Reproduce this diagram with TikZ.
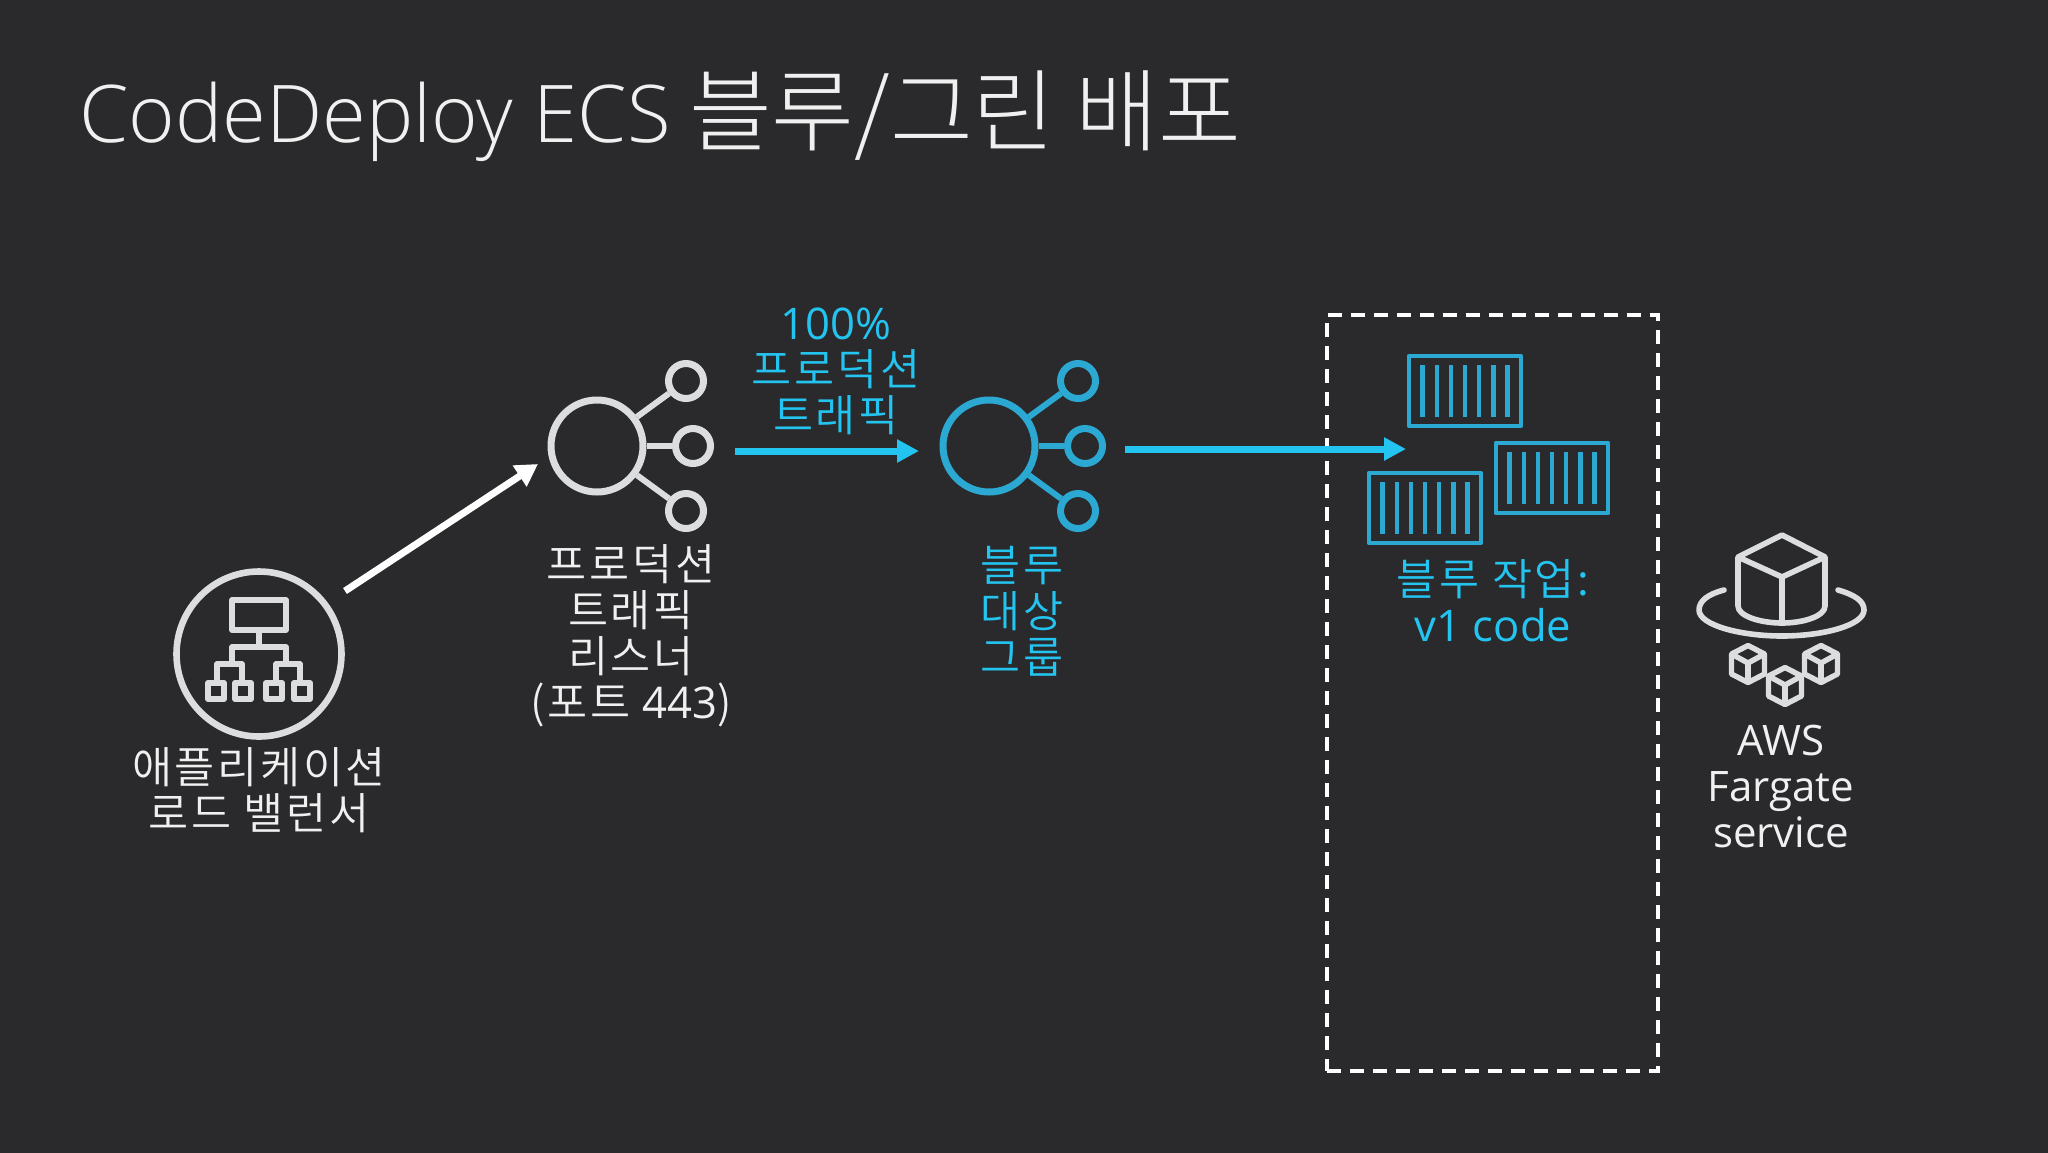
\documentclass[tikz,border=0pt]{standalone}
\usepackage{fontspec}
\usetikzlibrary{arrows.meta}
\setmainfont{Open Sans}
\newfontfamily\titlelatin{Open Sans Light}
\newfontfamily\titlekr{Noto Sans CJK KR Light}
\newfontfamily\bodykr[LetterSpace=6]{Noto Sans CJK KR DemiLight}
\definecolor{slidebg}{HTML}{2A2A2C}
\definecolor{icongrey}{HTML}{DCDDDF}
\definecolor{iconblue}{HTML}{2BA9D2}
\definecolor{flowblue}{HTML}{24C4F0}
\definecolor{textwhite}{HTML}{F0F0F0}
\tikzset{
    iconline/.style={line width=2.8pt,line join=round},
    hubnode/.style={circle,draw,line width=3.5pt,inner sep=0pt,minimum size=46pt},
    spokenode/.style={circle,draw,line width=3.5pt,inner sep=0pt,minimum size=17.5pt},
    boxline/.style={line width=2.4pt,draw=iconblue,line join=round},
    whitearrow/.style={line width=3.5pt,draw=white,-{Triangle[length=11pt,width=12pt,fill=white]}},
    flowarrow/.style={line width=3.5pt,draw=flowblue,-{Triangle[length=11pt,width=11pt,fill=flowblue]}},
    labeltext/.style={align=center,text=textwhite,font=\fontsize{21.8}{23}\selectfont\bodykr},
    bluetext/.style={align=center,text=flowblue,font=\fontsize{21.8}{23}\selectfont\bodykr},
}
\begin{document}
\begin{tikzpicture}[x=0.5pt,y=-0.5pt]
    \useasboundingbox (0,0) rectangle (2048,1152);
    \fill[slidebg] (-10,-10) rectangle (2058,1162);

    \node[anchor=west,text=textwhite,inner sep=0pt] (title) at (79,116)
        {{\fontsize{39.8}{46}\selectfont\titlelatin CodeDeploy ECS}\hspace{6.5pt} \raisebox{-1pt}{\fontsize{45}{46}\selectfont\titlekr 블루/그린 배포}};

    % load balancer
    \node[circle,draw=icongrey,line width=3.3pt,inner sep=0pt,minimum size=82.5pt] (albcircle) at (259,654) {};
    \draw[iconline,draw=icongrey] (232,600) rectangle (286,630);
    \draw[iconline,draw=icongrey] (259,630) -- (259,647);
    \draw[iconline,draw=icongrey] (232,664) -- (232,647) -- (286,647) -- (286,664);
    \draw[iconline,draw=icongrey] (217,683) -- (217,664) -- (242,664) -- (242,683);
    \draw[iconline,draw=icongrey] (276,683) -- (276,664) -- (300,664) -- (300,683);
    \foreach \x in {205,232,263,291}
        {
            \draw[iconline,line width=3pt,draw=icongrey] (\x+3,683) rectangle (\x+19,699);
        }
    \node[labeltext] (albtext) at (259,790) {애플리케이션\\로드 밸런서};

    % hubs
    \foreach \x/\c/\n in {597/icongrey/listener,989/iconblue/target}
        {
            \node[hubnode,draw=\c] (\n hub) at (\x,446) {};
            \node[spokenode,draw=\c] (\n top) at (\x+89,381) {};
            \node[spokenode,draw=\c] (\n mid) at (\x+96,446) {};
            \node[spokenode,draw=\c] (\n bot) at (\x+89,511) {};
            \draw[iconline,draw=\c,line width=3pt] (\n hub) -- (\n top);
            \draw[iconline,draw=\c,line width=3pt] (\n hub) -- (\n mid);
            \draw[iconline,draw=\c,line width=3pt] (\n hub) -- (\n bot);
        }
    \node[labeltext] (listenertext) at (631,636) {프로덕션\\트래픽\\리스너\\(포트 {\fontspec{Open Sans}443})};
    \node[bluetext] (targettext) at (1022,611) {블루\\대상\\그룹};
    \node[bluetext] (traffictext) at (836,371) {{\fontspec{Open Sans}100\%}\\프로덕션\\트래픽};

    % task box
    \node[draw=white,dashed,line width=2pt,dash pattern=on 7pt off 4.5pt,inner sep=0pt,minimum width=165.5pt,minimum height=378pt] (taskbox) at (1492.5,693) {};
    \foreach \x/\y in {1407/354,1494/441,1367/471}
        {
            \draw[boxline] (\x+2,\y+2) rectangle (\x+114,\y+72);
            \foreach \b in {0,...,6}
                {
                    \draw[line width=2.3pt,draw=iconblue] (\x+15.7+14.1*\b,\y+11) -- (\x+15.7+14.1*\b,\y+63);
                }
        }
    \node[bluetext] (tasktext) at (1493,601) {블루 작업:\\[0pt]{\fontspec{Open Sans}v1 code}};

    % fargate
    \draw[iconline,draw=icongrey] (1782,535) -- (1825,557) -- (1782,577) -- (1738,557) -- cycle;
    \draw[iconline,draw=icongrey] (1782,577) -- (1782,623);
    \draw[iconline,draw=icongrey] (1738,557) -- (1738,606) .. controls (1738,616) and (1760,623) .. (1782,623) .. controls (1804,623) and (1825,616) .. (1825,606) -- (1825,557);
    \draw[iconline,draw=icongrey,line cap=round] (1724,590) .. controls (1708,594) and (1699,601) .. (1699,610) .. controls (1699,625) and (1740,636) .. (1782,636) .. controls (1824,636) and (1864,625) .. (1864,610) .. controls (1864,601) and (1855,595) .. (1838,590);
    \foreach \x/\y in {1748/664,1785/686,1821/664}
        {
            \draw[iconline,line width=2.7pt,draw=icongrey] (\x,\y-18.5) -- (\x+16.5,\y-10) -- (\x+16.5,\y+10) -- (\x,\y+18.5) -- (\x-16.5,\y+10) -- (\x-16.5,\y-10) -- cycle;
            \draw[iconline,line width=2.7pt,draw=icongrey] (\x-16.5,\y-10) -- (\x,\y-1) -- (\x+16.5,\y-10);
            \draw[iconline,line width=2.7pt,draw=icongrey] (\x,\y-1) -- (\x,\y+18.5);
        }
    \node[align=center,text=textwhite,font=\fontsize{21}{23}\selectfont] (fargatetext) at (1781,786) {AWS\\Fargate\\service};

    % flows
    \coordinate (albout) at (345,591);
    \coordinate (listenerin) at (538,464);
    \coordinate (listenerout) at (735,451);
    \coordinate (targetin) at (919,451);
    \coordinate (targetout) at (1125,449);
    \coordinate (taskin) at (1406,449);
    \draw[whitearrow] (albout) -- (listenerin);
    \draw[flowarrow] (listenerout) -- (targetin);
    \draw[flowarrow] (targetout) -- (taskin);
\end{tikzpicture}
\end{document}
